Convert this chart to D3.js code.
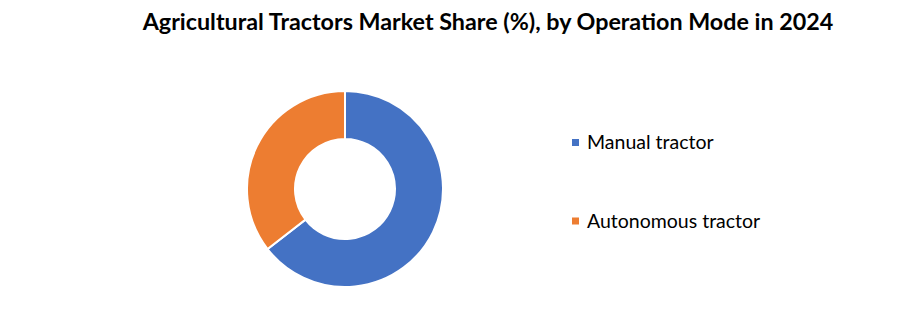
<!DOCTYPE html>
<html>
<head>
<meta charset="utf-8">
<script src="https://cdn.jsdelivr.net/npm/d3@7"></script>
<style>
  body { margin: 0; background: #fff; }
  svg { display: block; font-family: Lato, "Open Sans", sans-serif; }
</style>
</head>
<body>
<div id="chart"></div>
<script>
// data
var categories = ["Manual tractor", "Autonomous tractor"];
var shares = [64.5, 35.5];
var colors = ["#4472C4", "#ED7D31"];
var title = "Agricultural Tractors Market Share (%), by Operation Mode in 2024";

var svgWidth = 919;
var svgHeight = 321;

var svg = d3.select("#chart")
  .append("svg")
  .attr("width", svgWidth)
  .attr("height", svgHeight);

svg.append("text")
  .attr("x", 488)
  .attr("y", 30)
  .attr("text-anchor", "middle")
  .attr("font-size", "23.3px")
  .attr("font-weight", "bold")
  .attr("fill", "#000")
  .text(title);

var cx = 345, cy = 189;
var outerR = 98, innerR = 50;

var data = categories.map(function(c, i) {
  return { name: c, value: shares[i] };
});

var pie = d3.pie()
  .value(d => d.value)
  .sort(null);

var arc = d3.arc()
  .innerRadius(innerR)
  .outerRadius(outerR);

var color = d3.scaleOrdinal()
  .domain(categories)
  .range(colors);

var donut = svg.append("g")
  .attr("transform", `translate(${cx}, ${cy})`);

donut.selectAll("path")
  .data(pie(data))
  .enter()
  .append("path")
  .attr("d", arc)
  .attr("fill", d => color(d.data.name))
  .attr("stroke", "#fff")
  .attr("stroke-width", 2);

// legend
var legendY = d3.scalePoint()
  .domain(categories)
  .range([142.5, 221]);

var legend = svg.append("g");

var items = legend.selectAll("g")
  .data(categories)
  .enter()
  .append("g")
  .attr("transform", d => `translate(572, ${legendY(d)})`);

items.append("rect")
  .attr("x", 0)
  .attr("y", -3.5)
  .attr("width", 7)
  .attr("height", 7)
  .attr("fill", d => color(d));

items.append("text")
  .attr("x", 15)
  .attr("y", 6.5)
  .attr("font-size", "19.5px")
  .attr("fill", "#000")
  .text(d => d);
</script>
</body>
</html>
